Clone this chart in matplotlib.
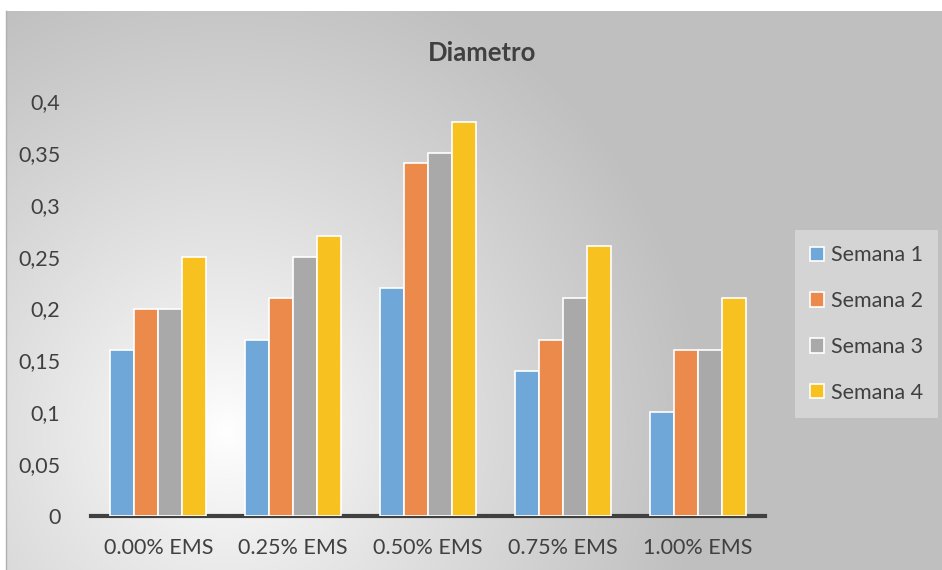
import numpy as np
import matplotlib
matplotlib.use("Agg")
import matplotlib.pyplot as plt

# data
categorias = ["0.00% EMS", "0.25% EMS", "0.50% EMS", "0.75% EMS", "1.00% EMS"]
semana1 = [0.16, 0.17, 0.22, 0.14, 0.10]
semana2 = [0.20, 0.21, 0.34, 0.17, 0.16]
semana3 = [0.20, 0.25, 0.35, 0.21, 0.16]
semana4 = [0.25, 0.27, 0.38, 0.26, 0.21]
series = ["Semana 1", "Semana 2", "Semana 3", "Semana 4"]
yticks = [0, 0.05, 0.1, 0.15, 0.2, 0.25, 0.3, 0.35, 0.4]

colores = ["#6fa7d9", "#ec8a4b", "#a9a9a9", "#f7c11f"]
texto = "#404040"

plt.rcParams['font.family'] = ['Lato', 'DejaVu Sans']

fig = plt.figure(figsize=(9.42, 5.7), dpi=100)

# radial gradient background of the chart area
bg = fig.add_axes([6/942, 0, 936/942, 559/570])
W, H = 936, 559
xx, yy = np.meshgrid(np.arange(W), np.arange(H))
cx, cy = 220, 420  # center in px (from top of chart area)
d = np.sqrt((xx - cx)**2 + (yy - cy)**2)
t = np.clip(d / 480.0, 0, 1) ** 0.9
val = 1.0 - (1.0 - 0.75) * t
img = np.dstack([val, val, val])
bg.imshow(img, aspect='auto', extent=[0, W, H, 0])
bg.set_xlim(0, W)
bg.set_ylim(H, 0)
bg.axis('off')

ax = fig.add_axes([91/942, 54/570, 674/942, 415/570])
ax.patch.set_alpha(0)

x = np.arange(len(categorias))
w = 0.178
datos = [semana1, semana2, semana3, semana4]
for i, (nombre, vals) in enumerate(zip(series, datos)):
    ax.bar(x + (i - 1.5) * w, vals, width=w, color=colores[i],
           edgecolor='white', linewidth=1.2, label=nombre, zorder=3)

ax.set_xlim(-0.5, len(categorias) - 0.5)
ax.set_ylim(0, 0.4)
ax.set_yticks(yticks)
ax.set_yticklabels([("%g" % v).replace(".", ",") for v in yticks])
ax.set_xticks(x)
ax.set_xticklabels(categorias)
ax.tick_params(axis='both', length=0, labelsize=15.5, colors=texto)
ax.tick_params(axis='y', pad=22)
ax.tick_params(axis='x', pad=16)
for s in ['top', 'right', 'left']:
    ax.spines[s].set_visible(False)
ax.spines['bottom'].set_color('#404040')
ax.spines['bottom'].set_linewidth(3)

fig.text(482/942, 1 - 53/570, "Diametro", ha='center', va='center',
         fontsize=18.5, fontweight='bold', color=texto)

leg = ax.legend(loc='center left', bbox_to_anchor=(795/942, 1 - 324/570),
                bbox_transform=fig.transFigure, frameon=True, fancybox=False,
                fontsize=15.5, labelspacing=1.2, handlelength=0.65,
                handleheight=0.65, handletextpad=0.3, borderpad=0.7,
                borderaxespad=0, labelcolor=texto)
leg.get_frame().set_facecolor('#d4d4d4')
leg.get_frame().set_edgecolor('none')
leg.get_frame().set_alpha(1)

# thin border of chart area
fig.add_artist(plt.Line2D([6/942, 6/942], [0, 559/570], color='#b0b0b0',
                          linewidth=1, transform=fig.transFigure))

fig.savefig("out.png", dpi=100)
